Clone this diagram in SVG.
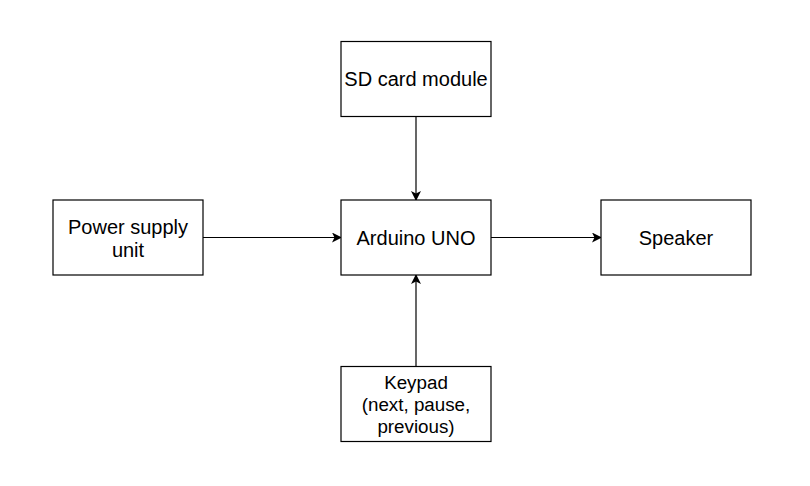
<svg xmlns="http://www.w3.org/2000/svg" width="810" height="486" viewBox="0 0 810 486">
<style>
.box{fill:#fff;stroke:#000;stroke-width:1.2}
.t{font-family:"Liberation Sans",Arial,sans-serif;font-size:20px;fill:#000;text-anchor:middle}
.s{font-size:18.8px}
.e{stroke:#000;stroke-width:1.2;fill:none;marker-end:url(#a)}
</style>
<defs>
<marker id="a" viewBox="0 0 10 10" refX="9" refY="5" markerWidth="10" markerHeight="10" markerUnits="userSpaceOnUse" orient="auto">
<path d="M0,0 L10,5 L0,10 L2.5,5 Z" fill="#000"/>
</marker>
</defs>
<rect width="810" height="486" fill="#fff"/>
<g id="edges">
<line class="e" x1="416" y1="116" x2="416" y2="200"/>
<line class="e" x1="416" y1="366" x2="416" y2="275"/>
<line class="e" x1="203" y1="237.5" x2="341" y2="237.5"/>
<line class="e" x1="491" y1="237.5" x2="601" y2="237.5"/>
</g>
<g id="sd"><rect class="box" x="341" y="41.5" width="150" height="75"/><text class="t" x="416" y="86">SD card module</text></g>
<g id="arduino"><rect class="box" x="341" y="200" width="150" height="75"/><text class="t" x="416" y="245">Arduino UNO</text></g>
<g id="power"><rect class="box" x="53" y="200" width="150" height="75"/><text class="t" x="128" y="233.5">Power supply</text><text class="t" x="128" y="257">unit</text></g>
<g id="speaker"><rect class="box" x="601" y="200" width="150" height="75"/><text class="t" x="676" y="245">Speaker</text></g>
<g id="keypad"><rect class="box" x="341" y="366.5" width="150" height="75"/><text class="t s" x="416" y="388.5">Keypad</text><text class="t s" x="416" y="410.5">(next, pause,</text><text class="t s" x="416" y="432.5">previous)</text></g>
</svg>
